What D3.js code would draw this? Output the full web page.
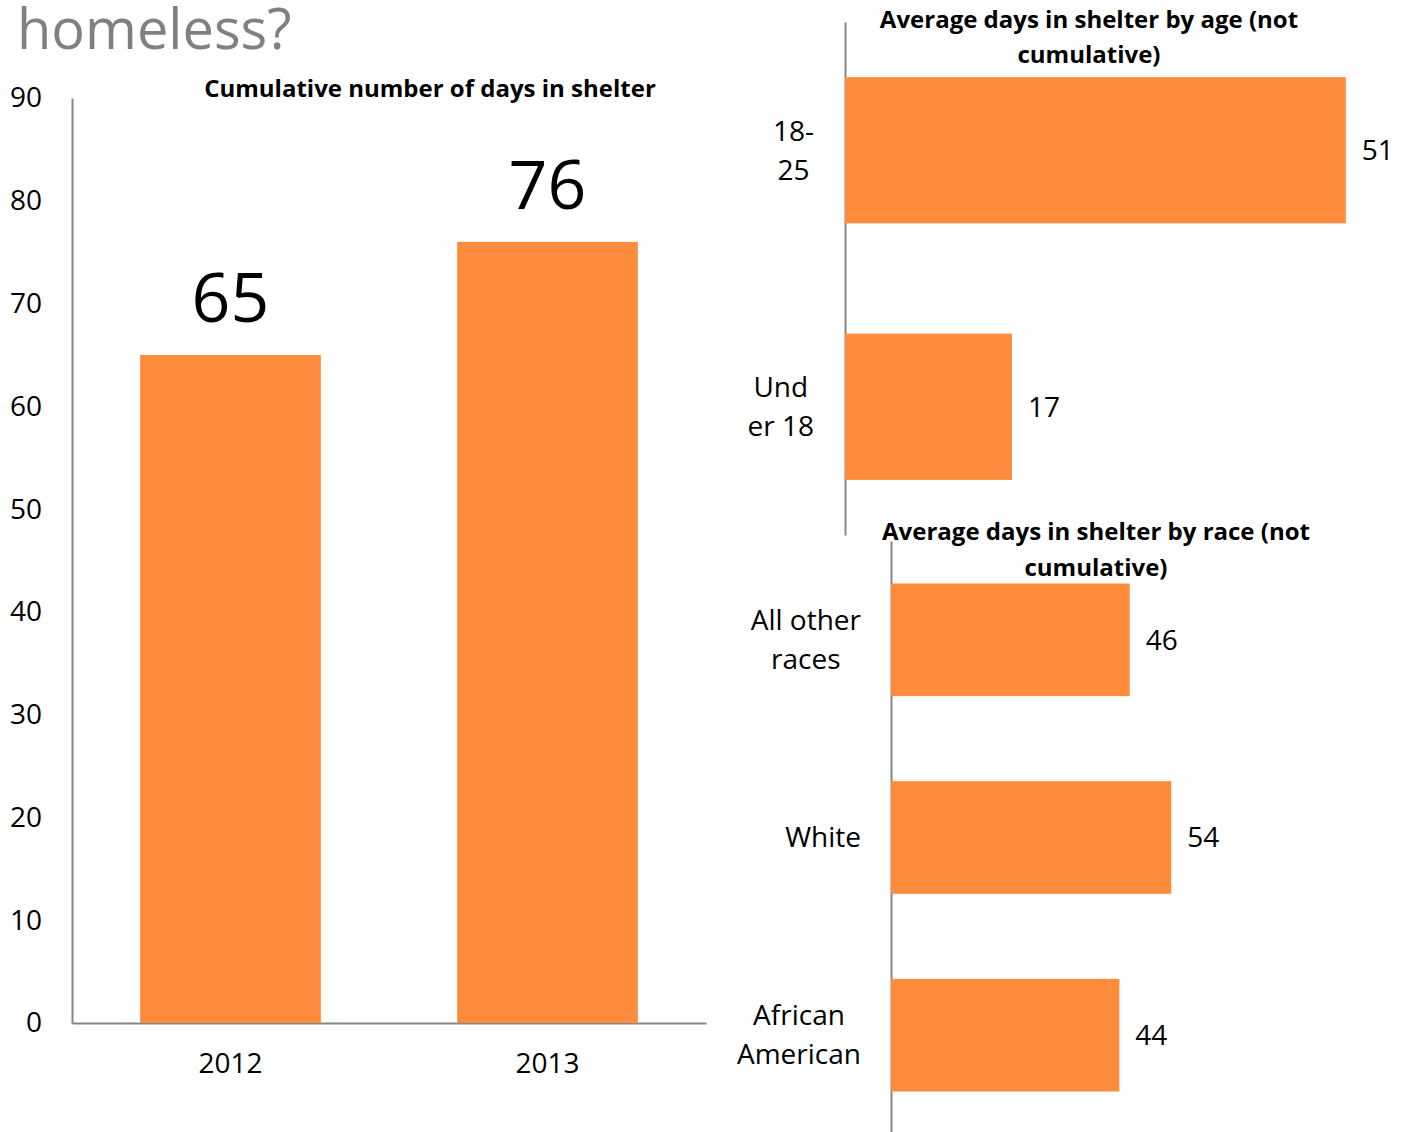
<!DOCTYPE html>
<html>
<head>
<meta charset="utf-8">
<script src="https://cdn.jsdelivr.net/npm/d3@7"></script>
<style>
  body { margin: 0; background: #fff; }
  svg { display: block; font-family: "Open Sans", sans-serif; }
  .axis path { stroke: #868686; stroke-width: 2; }
  .axis line { stroke: none; }
  .axis text { font-family: "Open Sans", sans-serif; font-size: 28px; fill: #000; }
  .bar { fill: #FF8B3D; }
  .title { font-weight: bold; font-size: 24px; text-anchor: middle; }
</style>
</head>
<body>
<div id="chart"></div>
<script>
// data
var years = ["2012", "2013"];
var cumulativeDays = [65, 76];
var yTicks = [0, 10, 20, 30, 40, 50, 60, 70, 80, 90];

var ageGroups = ["18-25", "Under 18"];
var ageLabelLines = [["18-", "25"], ["Und", "er 18"]];
var ageDays = [51, 17];

var races = ["All other races", "White", "African American"];
var raceLabelLines = [["All other", "races"], ["White"], ["African", "American"]];
var raceDays = [46, 54, 44];

var svg = d3.select("#chart").append("svg")
    .attr("width", 1405)
    .attr("height", 1132);

// page heading (cut off at top)
svg.append("text")
    .attr("x", 17)
    .attr("y", 49)
    .attr("font-size", 56)
    .attr("fill", "#808080")
    .text("homeless?");

////// Left chart: cumulative days //////
var yScale = d3.scaleLinear()
    .domain([0, 90])
    .range([1023, 98]);
var xScale = d3.scaleBand()
    .domain(years)
    .range([72, 706])
    .paddingInner(0.43)
    .paddingOuter(0.215);

svg.append("g")
    .attr("class", "axis")
    .attr("transform", "translate(72,0)")
    .call(d3.axisLeft(yScale).tickValues(yTicks).tickSize(0).tickPadding(30));

svg.append("g")
    .attr("class", "axis")
    .attr("transform", "translate(0,1023)")
    .call(d3.axisBottom(xScale).tickSize(0).tickPadding(30));

svg.append("g").selectAll("rect")
    .data(years)
    .enter()
    .append("rect")
    .attr("class", "bar")
    .attr("x", function(d) { return xScale(d); })
    .attr("width", xScale.bandwidth())
    .attr("y", function(d, i) { return yScale(cumulativeDays[i]); })
    .attr("height", function(d, i) { return 1023 - yScale(cumulativeDays[i]); });

svg.append("g").selectAll("text")
    .data(years)
    .enter()
    .append("text")
    .attr("x", function(d) { return xScale(d) + xScale.bandwidth() / 2; })
    .attr("y", function(d, i) { return yScale(cumulativeDays[i]) - 33; })
    .attr("text-anchor", "middle")
    .attr("font-size", 68)
    .text(function(d, i) { return cumulativeDays[i]; });

svg.append("text")
    .attr("class", "title")
    .attr("x", 430)
    .attr("y", 97)
    .text("Cumulative number of days in shelter");

////// horizontal bar chart helper //////
function hbar(cats, lines, values, x0, pxPerUnit, y0, y1, labelRight) {
  var x = d3.scaleLinear()
      .domain([0, 60])
      .range([x0, x0 + 60 * pxPerUnit]);
  var y = d3.scaleBand()
      .domain(cats)
      .range([y0, y1])
      .paddingInner(0.43)
      .paddingOuter(0.215);

  svg.append("g")
      .attr("class", "axis")
      .attr("transform", "translate(" + x0 + ",0)")
      .call(d3.axisLeft(y).tickSize(0).tickFormat(""));

  svg.append("g").selectAll("rect")
      .data(cats)
      .enter()
      .append("rect")
      .attr("class", "bar")
      .attr("x", x0)
      .attr("y", function(d) { return y(d); })
      .attr("height", y.bandwidth())
      .attr("width", function(d, i) { return x(values[i]) - x0; });

  svg.append("g").selectAll("text")
      .data(cats)
      .enter()
      .append("text")
      .attr("x", function(d, i) { return x(values[i]) + 16; })
      .attr("y", function(d) { return y(d) + y.bandwidth() / 2; })
      .attr("dy", "0.35em")
      .attr("font-size", 28)
      .text(function(d, i) { return values[i]; });

  // category labels: block right-aligned, lines centered in block
  cats.forEach(function(c, i) {
    var ls = lines[i];
    var g = svg.append("g");
    var cy = y(c) + y.bandwidth() / 2;
    var texts = g.selectAll("text")
        .data(ls)
        .enter()
        .append("text")
        .attr("font-size", 28)
        .attr("text-anchor", "middle")
        .attr("y", function(d, j) { return cy + (j - (ls.length - 1) / 2) * 39; })
        .attr("dy", "0.35em")
        .text(function(d) { return d; });
    var w = 0;
    texts.each(function() { w = Math.max(w, this.getComputedTextLength()); });
    texts.attr("x", labelRight - w / 2);
  });
}

hbar(ageGroups, ageLabelLines, ageDays, 845, 9.82, 22, 535, 814);
hbar(races, raceLabelLines, raceDays, 891, 5.19, 541, 1134, 861);

var ageTitle = svg.append("text").attr("class", "title");
ageTitle.append("tspan").attr("x", 1089).attr("y", 28).text("Average days in shelter by age (not");
ageTitle.append("tspan").attr("x", 1089).attr("y", 63).text("cumulative)");

var raceTitle = svg.append("text").attr("class", "title");
raceTitle.append("tspan").attr("x", 1096).attr("y", 540).text("Average days in shelter by race (not");
raceTitle.append("tspan").attr("x", 1096).attr("y", 576).text("cumulative)");
</script>
</body>
</html>
